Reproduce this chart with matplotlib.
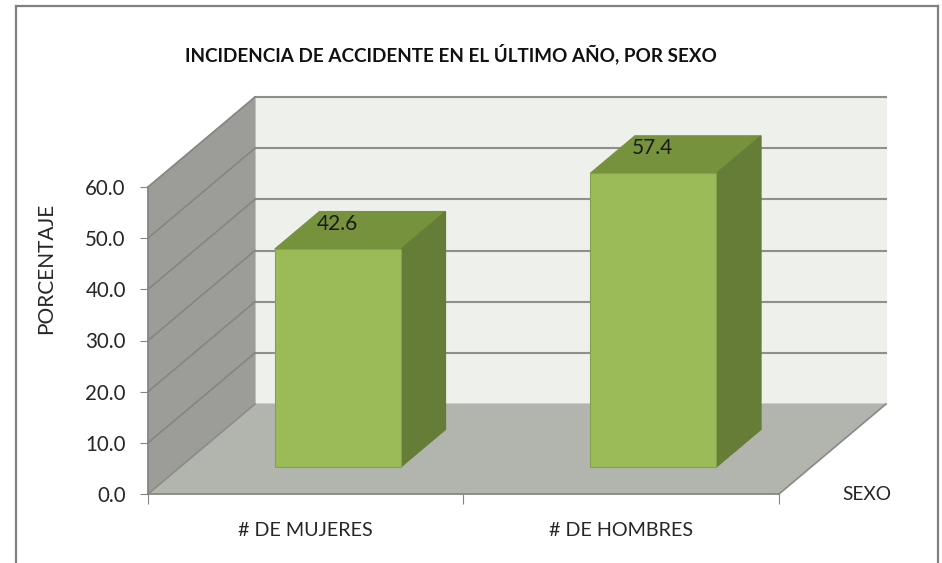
# incidencia de accidente - fake 3d bars on a normal axes
import matplotlib
matplotlib.use('Agg')
from matplotlib import pyplot as plt
from matplotlib.lines import Line2D
from matplotlib.patches import Polygon

categories = ['# DE MUJERES', '# DE HOMBRES']
values = [42.6, 57.4]
y_ticks = [0, 10, 20, 30, 40, 50, 60]

W, H = 942, 563
plt.rcParams['font.family'] = ['Lato', 'DejaVu Sans']

fig = plt.figure(figsize=(W / 100, H / 100), dpi=100)
ax = fig.add_axes([148 / W, 1 - 494 / H, 631 / W, 307 / H])
ax.set_xlim(0, 2)
ax.set_ylim(0, 60)
ax.patch.set_visible(False)

# depth in data units: d=1 is the back wall
depth_x = 107 / 315.5
depth_y = 90 / 5.117


def proj(x, y, d):
    return (x + d * depth_x, y + d * depth_y)


def face(points, color, edge=None, z=1):
    ax.add_patch(Polygon([proj(*p) for p in points], closed=True, facecolor=color,
                         edgecolor=edge or color, lw=0.8, clip_on=False, zorder=z))


def depth_line(p1, p2, color='#85867f', lw=1.2, z=2):
    a, b = proj(*p1), proj(*p2)
    ax.add_line(Line2D([a[0], b[0]], [a[1], b[1]], color=color, lw=lw, clip_on=False, zorder=z))


# walls and floor
top = y_ticks[-1]
face([(0, 0, 1), (2, 0, 1), (2, top, 1), (0, top, 1)], '#eef0eb')
face([(0, 0, 0), (0, 0, 1), (0, top, 1), (0, top, 0)], '#9c9d98')
face([(0, 0, 0), (2, 0, 0), (2, 0, 1), (0, 0, 1)], '#b2b4ae')
for t in y_ticks[1:]:
    depth_line((0, t, 1), (2, t, 1), color='#8f908b', lw=1.5)
    depth_line((0, t, 0), (0, t, 1))
depth_line((2, 0, 0), (2, 0, 1), color='#8a8b86')
depth_line((0, 0, 0), (0, 0, 1), color='#8a8b86')

# bars
d_front, d_back = 0.3, 0.717
bar_w = 0.4
for i, v in enumerate(values):
    x0 = i + 0.5 - bar_w / 2
    x1 = i + 0.5 + bar_w / 2
    face([(x0, v, d_front), (x1, v, d_front), (x1, v, d_back), (x0, v, d_back)], '#76923c', z=3)
    face([(x1, 0, d_front), (x1, 0, d_back), (x1, v, d_back), (x1, v, d_front)], '#657d37', z=3)
    face([(x0, 0, d_front), (x1, 0, d_front), (x1, v, d_front), (x0, v, d_front)], '#9bbb59',
         edge='#84a34a', z=4)
    lx, ly = proj(i + 0.5 - 0.07, v, 0.5)
    ax.annotate(f'{v:.1f}', (lx, ly), xytext=(0, 5), textcoords='offset points',
                ha='center', va='center', fontsize=15, color='#1a1a1a', zorder=5,
                annotation_clip=False)

# axes
for s in ['top', 'right']:
    ax.spines[s].set_visible(False)
for s in ['left', 'bottom']:
    ax.spines[s].set_color('#85867f')
    ax.spines[s].set_linewidth(1.2)
    ax.spines[s].set_zorder(6)
ax.set_yticks(y_ticks)
ax.set_yticklabels([f'{t:.1f}' for t in y_ticks], fontsize=14.8, color='#262626')
ax.tick_params(axis='y', length=6, color='#85867f', pad=10)
ax.set_xticks([0, 1, 2])
ax.set_xticklabels(['', '', ''])
ax.tick_params(axis='x', which='major', length=7, color='#85867f')
ax.set_xticks([0.5, 1.5], minor=True)
ax.set_xticklabels(categories, minor=True, fontsize=14.2, color='#262626')
ax.tick_params(axis='x', which='minor', length=0, pad=20)

fig.text(451 / W, 1 - 54 / H, 'INCIDENCIA DE ACCIDENTE EN EL ÚLTIMO AÑO, POR SEXO',
         ha='center', va='center', fontsize=13.6, fontweight='bold', color='#111111')
fig.text(46 / W, 1 - 268 / H, 'PORCENTAJE', rotation=90, ha='center', va='center',
         fontsize=15, color='#262626')
fig.text(867 / W, 1 - 494 / H, 'SEXO', ha='center', va='center', fontsize=13.8, color='#262626')

# outer frame
for xs, ys in [([16, 16], [6, H]), ([16, 938], [6, 6]), ([938, 938], [6, H])]:
    fig.add_artist(Line2D([x / W for x in xs], [1 - y / H for y in ys], color='#808080', lw=1.6))

fig.savefig('out.png', dpi=100)
